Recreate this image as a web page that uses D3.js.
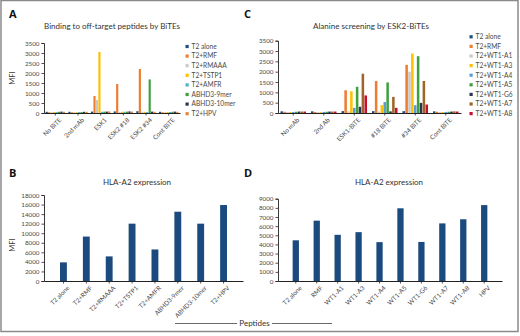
<!DOCTYPE html>
<html><head><meta charset="utf-8">
<script src="https://cdn.jsdelivr.net/npm/d3@7"></script>
<style>
html,body{margin:0;padding:0;background:#fff;}
svg{display:block;font-family:Lato,"Open Sans",sans-serif;}
</style></head>
<body>
<svg id="chart" width="520" height="336"></svg>
<script>
// ---- Data ----
const catsA = ["No BiTE","2nd mAb","ESK1","ESK2 #18","ESK2 #34","Cont BiTE"];
const seriesA = ["T2 alone","T2+RMF","T2+RMAAA","T2+TSTP1","T2+AMFR","ABHD3-9mer","ABHD3-10mer","T2+HPV"];
const colorsA = ["#1f4e79","#ed7d31","#c9c9c9","#ffc000","#4bb3c8","#3fa03f","#2a3550","#e0873a"];
const vA_T2 = [60,60,70,80,90,60];
const vA_RMF = [40,40,850,1450,2200,40];
const vA_RMAAA = [40,40,650,50,60,40];
const vA_TSTP1 = [50,40,3050,60,60,50];
const vA_AMFR = [50,50,60,60,50,50];
const vA_9mer = [60,50,70,70,1680,60];
const vA_10mer = [70,60,70,80,70,70];
const vA_HPV = [60,60,80,70,60,60];
const valuesA = [vA_T2,vA_RMF,vA_RMAAA,vA_TSTP1,vA_AMFR,vA_9mer,vA_10mer,vA_HPV];
const ticksA = [0,500,1000,1500,2000,2500,3000,3500];

const catsC = ["No mAb","2nd Ab","ESK1-BiTE","#18 BiTE","#34 BiTE","Cont BiTE"];
const seriesC = ["T2 alone","T2+RMF","T2+WT1-A1","T2+WT1-A3","T2+WT1-A4","T2+WT1-A5","T2+WT1-G6","T2+WT1-A7","T2+WT1-A8"];
const colorsC = ["#1f4e79","#ed7d31","#c9c9c9","#ffc000","#5b9bd5","#3fa03f","#2a3550","#a0642a","#c8102e"];
const vC_T2 = [80,80,90,90,90,80];
const vC_RMF = [60,50,1100,1550,2330,60];
const vC_A1 = [50,40,80,70,2000,50];
const vC_A3 = [50,40,1050,380,2880,50];
const vC_A4 = [50,50,250,530,380,50];
const vC_A5 = [60,60,1270,1480,2750,60];
const vC_G6 = [70,70,300,80,490,70];
const vC_A7 = [70,70,1900,780,1550,80];
const vC_A8 = [70,70,850,250,410,70];
const valuesC = [vC_T2,vC_RMF,vC_A1,vC_A3,vC_A4,vC_A5,vC_G6,vC_A7,vC_A8];
const ticksC = [0,500,1000,1500,2000,2500,3000,3500];

const catsB = ["T2 alone","T2+RMF","T2+RMAAA","T2+TSTP1","T2+AMFR","ABHD3-9mer","ABHD3-10mer","T2+HPV"];
const valuesB = [3900,9300,5150,12000,6600,14500,12000,15900];
const ticksB = [0,2000,4000,6000,8000,10000,12000,14000,16000,18000];

const catsD = ["T2 alone","RMF","WT1-A1","WT1-A3","WT1-A4","WT1-A5","WT1-G6","WT1-A7","WT1-A8","HPV"];
const valuesD = [4450,6600,5050,5340,4250,7950,4270,6300,6750,8300];
const ticksD = [0,1000,2000,3000,4000,5000,6000,7000,8000,9000];

const barColor = "#1b4a7e";
const textColor = "#4a4a4a";

const svg = d3.select("#chart");

// frame
svg.append("rect").attr("x",1).attr("y",0.5).attr("width",517).attr("height",331)
  .attr("fill","none").attr("stroke","#8a8a8a").attr("stroke-width",1.5);

function panelLetter(t,x,y){
  svg.append("text").attr("x",x).attr("y",y).text(t)
    .attr("font-size",11).attr("font-weight","bold").attr("fill","#111")
    .attr("font-family","'Open Sans',sans-serif");
}
function title(t,x,y){
  svg.append("text").attr("x",x).attr("y",y).attr("text-anchor","middle").text(t)
    .attr("font-size",8).attr("fill","#333");
}
function yAxis(g,y,ticks,x0){
  const ax = g.append("g").attr("transform",`translate(${x0},0)`)
    .call(d3.axisLeft(y).tickValues(ticks).tickSize(2.5).tickPadding(2).tickFormat(d3.format("d")));
  ax.select(".domain").attr("stroke","#222").attr("stroke-width",0.9);
  ax.selectAll(".tick line").attr("stroke","#222").attr("stroke-width",0.8);
  ax.selectAll("text").attr("font-size",6.3).attr("fill",textColor).attr("font-family","Lato,sans-serif");
}
function xAxis(g,x,y0,cats){
  const ax = g.append("g").attr("transform",`translate(0,${y0})`)
    .call(d3.axisBottom(x).tickSize(2.5).tickSizeOuter(0).tickPadding(2));
  ax.select(".domain").attr("stroke","#222").attr("stroke-width",1);
  ax.selectAll(".tick line").attr("stroke","#222").attr("stroke-width",0.8);
  ax.selectAll("text").attr("font-size",6.3).attr("fill",textColor)
    .attr("text-anchor","end").attr("dy","0.3em")
    .attr("transform","translate(2,3) rotate(-45)").attr("font-family","Lato,sans-serif");
}
function yLabel(t,x,y){
  svg.append("text").attr("transform",`translate(${x},${y}) rotate(-90)`).attr("text-anchor","middle")
    .text(t).attr("font-size",7.5).attr("fill","#333");
}
function legend(series,colors,x,y,dy){
  const g = svg.append("g");
  series.forEach((s,i)=>{
    g.append("rect").attr("x",x).attr("y",y+i*dy-1.6).attr("width",3.2).attr("height",3.2).attr("fill",colors[i]);
    g.append("text").attr("x",x+6).attr("y",y+i*dy).attr("dy","0.35em").text(s)
      .attr("font-size",6.6).attr("fill",textColor);
  });
}
function grouped(cats,series,values,colors,ticks,x0,x1,yb,yt,ymax,pad){
  const g = svg.append("g");
  const x = d3.scaleBand().domain(cats).range([x0,x1]).paddingInner(pad).paddingOuter(pad/2);
  const xs = d3.scaleBand().domain(series).range([0,x.bandwidth()]).padding(0.12);
  const y = d3.scaleLinear().domain([0,ymax]).range([yb,yt]);
  series.forEach((s,si)=>{
    g.selectAll(null).data(values[si]).enter().append("rect")
      .attr("x",(d,i)=>x(cats[i])+xs(s)).attr("width",xs.bandwidth())
      .attr("y",d=>y(d)).attr("height",d=>yb-y(d)).attr("fill",colors[si]);
  });
  yAxis(g,y,ticks,x0);
  xAxis(g,x,yb,cats);
}
function simple(cats,values,ticks,x0,x1,yb,yt,ymax,pad){
  const g = svg.append("g");
  const x = d3.scaleBand().domain(cats).range([x0,x1]).padding(pad);
  const y = d3.scaleLinear().domain([0,ymax]).range([yb,yt]);
  g.selectAll(null).data(values).enter().append("rect")
    .attr("x",(d,i)=>x(cats[i])).attr("width",x.bandwidth())
    .attr("y",d=>y(d)).attr("height",d=>yb-y(d)).attr("fill",barColor);
  yAxis(g,y,ticks,x0);
  xAxis(g,x,yb,cats);
}

// Panel A
panelLetter("A",9,18);
title("Binding to off-target peptides by BiTEs",112,29);
grouped(catsA,seriesA,valuesA,colorsA,ticksA,44,180,113,43,3500,0.12);
yLabel("MFI",15,78);
legend(seriesA,colorsA,185.5,46.5,9.6);

// Panel C
panelLetter("C",244,18);
title("Alanine screening by ESK2-BiTEs",371,29);
grouped(catsC,seriesC,valuesC,colorsC,ticksC,278,461,113,40.7,3500,0.14);
legend(seriesC,colorsC,469.5,36.8,9.6);

// Panel B
panelLetter("B",9,177);
title("HLA-A2 expression",137,185);
simple(catsB,valuesB,ticksB,44,243,281,195,18000,0.7);
yLabel("MFI",15,245);

// Panel D
panelLetter("D",244,177);
title("HLA-A2 expression",389,185);
simple(catsD,valuesD,ticksD,278,502,281,198.7,9000,0.7);

// Peptides label
svg.append("text").attr("x",254.5).attr("y",326).attr("text-anchor","middle").text("Peptides")
  .attr("font-size",8).attr("fill","#333");
svg.append("line").attr("x1",175).attr("x2",237).attr("y1",323.5).attr("y2",323.5).attr("stroke","#444").attr("stroke-width",0.8);
svg.append("line").attr("x1",272).attr("x2",332).attr("y1",323.5).attr("y2",323.5).attr("stroke","#444").attr("stroke-width",0.8);
</script>
</body></html>
